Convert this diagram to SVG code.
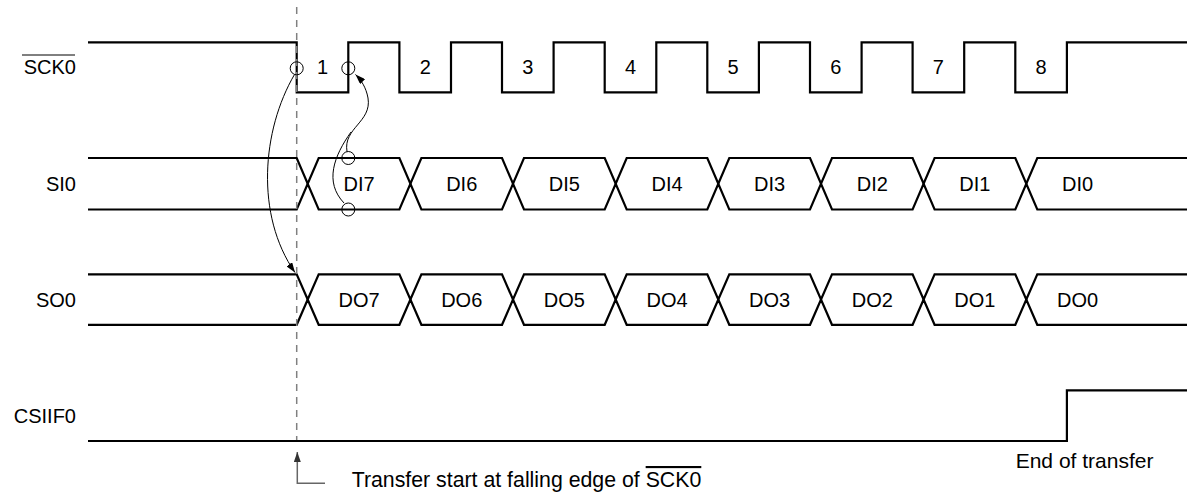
<svg xmlns="http://www.w3.org/2000/svg" width="1188" height="494" viewBox="0 0 1188 494">
<style>
.sig{fill:none;stroke:#000;stroke-width:2.2;stroke-linejoin:miter}
.t{font-family:"Liberation Sans",Arial,sans-serif;font-size:20px;fill:#000}
.big{font-size:21.3px}
.c{text-anchor:middle}
.e{text-anchor:end}
.ring{fill:none;stroke:#000;stroke-width:1}
.thin{fill:none;stroke:#000;stroke-width:1}
.gray{fill:none;stroke:#666;stroke-width:1.5}
</style>
<defs>
<marker id="ah" viewBox="0 0 10 7" refX="10" refY="3.5" markerWidth="10" markerHeight="7" markerUnits="userSpaceOnUse" orient="auto">
<path d="M0,0 L10,3.5 L0,7 z" fill="#000"/>
</marker>
<marker id="ahg" viewBox="0 0 10 7" refX="10" refY="3.5" markerWidth="10" markerHeight="7" markerUnits="userSpaceOnUse" orient="auto">
<path d="M0,0 L10,3.5 L0,7 z" fill="#333"/>
</marker>
</defs>

<g id="sck0">
<text class="t e" x="76" y="74">SCK0</text>
<line x1="22" y1="55" x2="75" y2="55" stroke="#000" stroke-width="1"/>
<path class="sig" d="M88 42.3 H296.7 V92.3 H348.3 V42.3 H399.4 V92.3 H451 V42.3 H502 V92.3 H553.6 V42.3 H604.7 V92.3 H656.3 V42.3 H707.3 V92.3 H758.9 V42.3 H810 V92.3 H861.6 V42.3 H912.6 V92.3 H964.2 V42.3 H1015.3 V92.3 H1066.9 V42.3 H1187"/>
<text class="t c" x="322.5" y="74">1</text>
<text class="t c" x="425.2" y="74">2</text>
<text class="t c" x="527.8" y="74">3</text>
<text class="t c" x="630.5" y="74">4</text>
<text class="t c" x="733.1" y="74">5</text>
<text class="t c" x="835.8" y="74">6</text>
<text class="t c" x="938.4" y="74">7</text>
<text class="t c" x="1041.1" y="74">8</text>
</g>

<g id="si0">
<text class="t e" x="76" y="191">SI0</text>
<path class="sig" d="M88 158 H296.7 L307.7 183.75 L318.7 158 H399.4 L410.4 183.75 L421.4 158 H502 L513 183.75 L524 158 H604.7 L615.7 183.75 L626.7 158 H707.3 L718.3 183.75 L729.3 158 H810 L821 183.75 L832 158 H912.6 L923.6 183.75 L934.6 158 H1015.3 L1026.3 183.75 L1037.3 158 H1187"/>
<path class="sig" d="M88 209.5 H296.7 L307.7 183.75 L318.7 209.5 H399.4 L410.4 183.75 L421.4 209.5 H502 L513 183.75 L524 209.5 H604.7 L615.7 183.75 L626.7 209.5 H707.3 L718.3 183.75 L729.3 209.5 H810 L821 183.75 L832 209.5 H912.6 L923.6 183.75 L934.6 209.5 H1015.3 L1026.3 183.75 L1037.3 209.5 H1187"/>
<text class="t c" x="359" y="191">DI7</text>
<text class="t c" x="461.7" y="191">DI6</text>
<text class="t c" x="564.3" y="191">DI5</text>
<text class="t c" x="667" y="191">DI4</text>
<text class="t c" x="769.6" y="191">DI3</text>
<text class="t c" x="872.3" y="191">DI2</text>
<text class="t c" x="974.9" y="191">DI1</text>
<text class="t c" x="1077.6" y="191">DI0</text>
</g>

<g id="so0">
<text class="t e" x="76" y="307">SO0</text>
<path class="sig" d="M88 274.3 H296.7 L307.7 299.55 L318.7 274.3 H399.4 L410.4 299.55 L421.4 274.3 H502 L513 299.55 L524 274.3 H604.7 L615.7 299.55 L626.7 274.3 H707.3 L718.3 299.55 L729.3 274.3 H810 L821 299.55 L832 274.3 H912.6 L923.6 299.55 L934.6 274.3 H1015.3 L1026.3 299.55 L1037.3 274.3 H1187"/>
<path class="sig" d="M88 324.8 H296.7 L307.7 299.55 L318.7 324.8 H399.4 L410.4 299.55 L421.4 324.8 H502 L513 299.55 L524 324.8 H604.7 L615.7 299.55 L626.7 324.8 H707.3 L718.3 299.55 L729.3 324.8 H810 L821 299.55 L832 324.8 H912.6 L923.6 299.55 L934.6 324.8 H1015.3 L1026.3 299.55 L1037.3 324.8 H1187"/>
<text class="t c" x="359" y="307">DO7</text>
<text class="t c" x="461.7" y="307">DO6</text>
<text class="t c" x="564.3" y="307">DO5</text>
<text class="t c" x="667" y="307">DO4</text>
<text class="t c" x="769.6" y="307">DO3</text>
<text class="t c" x="872.3" y="307">DO2</text>
<text class="t c" x="974.9" y="307">DO1</text>
<text class="t c" x="1077.6" y="307">DO0</text>
</g>

<g id="csiif0">
<text class="t e" x="76" y="423">CSIIF0</text>
<path class="sig" d="M88 441 H1066.9 V390.3 H1187"/>
<text class="t" x="1015.7" y="468" style="font-size:21px">End of transfer</text>
</g>

<g id="start-marker">
<line x1="296.7" y1="7" x2="296.7" y2="440" stroke="#808080" stroke-width="1.5" stroke-dasharray="7 6"/>
<path class="gray" d="M325 483.3 H297.3 V452" marker-end="url(#ahg)"/>
<text class="t big" x="351.7" y="487">Transfer start at falling edge of <tspan text-decoration="overline">SCK0</tspan></text>
</g>

<g id="connectors">
<circle class="ring" cx="296.7" cy="68.3" r="6.5"/>
<circle class="ring" cx="348.3" cy="68.3" r="6.5"/>
<circle class="ring" cx="348.3" cy="158" r="6.5"/>
<circle class="ring" cx="348.3" cy="209.5" r="6.5"/>
<path class="thin" d="M294.5 74.5 C262 130 255 215 295 272.5" marker-end="url(#ah)"/>
<path class="thin" d="M347 151.5 C343 128 372 122 368 98 C366 87 361 80 355.5 74.5" marker-end="url(#ah)"/>
<path class="thin" d="M344 203 C324 182 334 156 351 132"/>
</g>
</svg>
